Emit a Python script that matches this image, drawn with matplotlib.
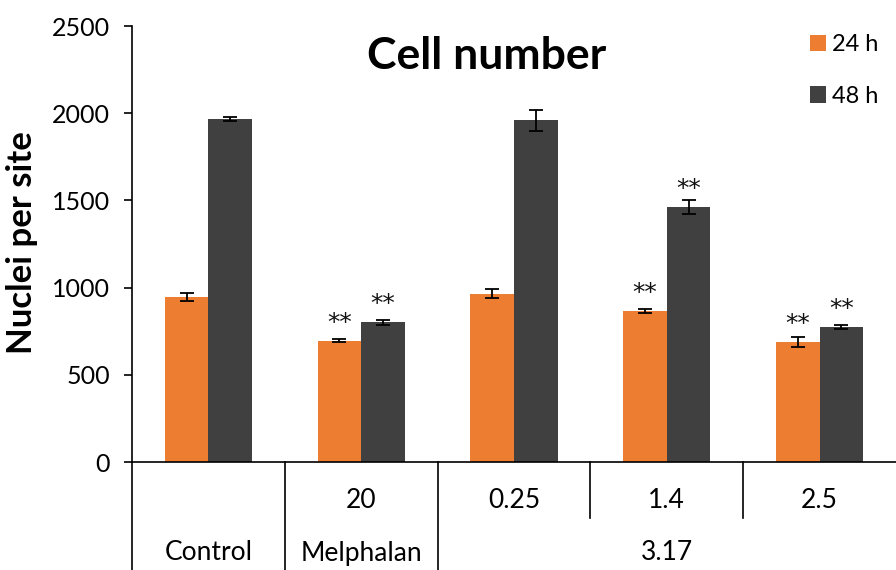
import matplotlib
matplotlib.use("Agg")
import matplotlib.pyplot as plt
import matplotlib.transforms as mtransforms

plt.rcParams['font.family'] = ['Lato', 'DejaVu Sans']

# Data
doses = ["", "20", "0.25", "1.4", "2.5"]
groups = ["Control", "Melphalan", "3.17"]
group_spans = [(0, 0), (1, 1), (2, 4)]
mean_24h = [947, 695, 966, 866, 689]
err_24h = [21, 8, 25, 12, 29]
mean_48h = [1966, 800, 1960, 1462, 775]
err_48h = [13, 15, 61, 41, 12]
sig_24h = ["", "**", "", "**", "**"]
sig_48h = ["", "**", "", "**", "**"]
series_labels = ["24 h", "48 h"]
colors = ["#ED7D31", "#404040"]

fig = plt.figure(figsize=(8.96, 5.70), dpi=100)
ax = fig.add_axes([132 / 896, 1 - 462 / 570, 764 / 896, 436 / 570])

n = len(doses)
x = list(range(n))
w = 0.285
x24 = [i - w / 2 for i in x]
x48 = [i + w / 2 for i in x]

ekw = dict(ecolor="black", elinewidth=1.3, capsize=5, capthick=1.3)
ax.bar(x24, mean_24h, width=w, color=colors[0], yerr=err_24h,
       error_kw=ekw, label=series_labels[0], zorder=2)
ax.bar(x48, mean_48h, width=w, color=colors[1], yerr=err_48h,
       error_kw=ekw, label=series_labels[1], zorder=2)

# Significance markers above bars
for xs, vals, sig in ((x24, mean_24h, sig_24h), (x48, mean_48h, sig_48h)):
    for xi, v, s in zip(xs, vals, sig):
        if s:
            ax.annotate(s, xy=(xi, v), xytext=(0, 13), textcoords="offset points",
                        ha="center", va="center", fontsize=18,
                        family=["DejaVu Sans"], color="#111111")

ax.set_xlim(-0.5, n - 0.5)
ax.set_ylim(0, 2500)
ax.set_yticks([0, 500, 1000, 1500, 2000, 2500])
ax.tick_params(axis="y", labelsize=18, length=6, width=1.2, direction="out",
               pad=10, colors="black")
ax.set_xticks([])
for side in ("top", "right"):
    ax.spines[side].set_visible(False)
ax.spines["left"].set_linewidth(1.2)
ax.spines["bottom"].set_linewidth(1.2)

ax.set_ylabel("Nuclei per site", fontsize=25, fontweight="bold")
ax.yaxis.set_label_coords(-(132 - 38) / 764, (462 - 243) / 436)

ax.text((487 - 132) / 764, (462 - 56) / 436, "Cell number",
        transform=ax.transAxes, ha="center", va="center", fontsize=32,
        fontweight="bold")

# Multi-level category axis below the plot
trans = mtransforms.blended_transform_factory(ax.transData, ax.transAxes)
row1_y = -(500 - 462) / 436
row2_y = -(553 - 462) / 436
short_y = -(518 - 462) / 436
long_y = -(572 - 462) / 436

for i, d in enumerate(doses):
    if d:
        ax.text(i, row1_y, d, transform=trans, ha="center", va="center",
                fontsize=19)

group_edges = set()
for g, (a, b) in zip(groups, group_spans):
    ax.text((a + b) / 2, row2_y, g, transform=trans, ha="center",
            va="center", fontsize=19)
    group_edges.add(a - 0.5)

for k in range(n):
    edge = k - 0.5
    y_end = long_y if edge in group_edges else short_y
    ax.plot([edge, edge], [0, y_end], transform=trans, color="black",
            lw=1.2, clip_on=False)

ax.legend(loc="upper right", bbox_to_anchor=(1.005, 1.03), frameon=False,
          fontsize=17, handlelength=0.7, handleheight=0.7,
          handletextpad=0.25, labelspacing=1.3)

fig.savefig("out.png", dpi=100)
